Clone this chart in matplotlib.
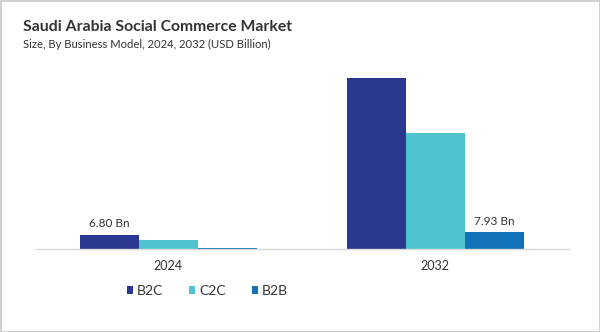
import numpy as np
import matplotlib.pyplot as plt
from matplotlib.patches import Rectangle

plt.rcParams['font.family'] = ['Lato', 'DejaVu Sans']

years = ['2024', '2032']
models = ['B2C', 'C2C', 'B2B']
b2c = [6.80, 80.5]
c2c = [4.4, 54.4]
b2b = [0.35, 7.93]
colors = ['#2b3890', '#4fc4d0', '#1271b8']

fig = plt.figure(figsize=(6, 3.32), dpi=100)
ax = fig.add_axes([34.5 / 600, 83 / 332, 534.5 / 600, 191.5 / 332])

x = np.arange(len(years))
w = 0.221
series = [b2c, c2c, b2b]
for i, (vals, col, name) in enumerate(zip(series, colors, models)):
    ax.bar(x + (i - 1) * w, vals, w, color=col, label=name, linewidth=0)

# value labels on the first and last bars
ax.text(x[0] - w, b2c[0] + 2.4, '%.2f Bn' % b2c[0], ha='center', va='bottom',
        fontsize=8.5, color='#333333')
ax.text(x[1] + w, b2b[1] + 2.4, '%.2f Bn' % b2b[1], ha='center', va='bottom',
        fontsize=8.5, color='#333333')

ax.set_xlim(-0.5, 1.5)
ax.set_ylim(0, 90)
ax.set_xticks(x)
ax.set_xticklabels(years, fontsize=9, color='#333333')
ax.tick_params(axis='x', length=0, pad=8)
ax.set_yticks([])
for s in ['top', 'right', 'left']:
    ax.spines[s].set_visible(False)
ax.spines['bottom'].set_color('#d9d9d9')
ax.spines['bottom'].set_linewidth(1)

fig.text(23 / 600, 1 - 27 / 332, 'Saudi Arabia Social Commerce Market', fontsize=11.3,
         fontweight='bold', color='#333333', va='center')
fig.text(23 / 600, 1 - 44.5 / 332, 'Size, By Business Model, 2024, 2032 (USD Billion)',
         fontsize=8.1, color='#333333', va='center')

leg = fig.legend(loc='center left', bbox_to_anchor=(114 / 600, 1 - 291 / 332), ncol=3,
                 frameon=False, fontsize=10, handlelength=0.45, handleheight=0.45,
                 columnspacing=1.85, handletextpad=0.3)
for t in leg.get_texts():
    t.set_color('#333333')

fig.patches.append(Rectangle((0.5 / 600, 0.5 / 332), 599 / 600, 331 / 332,
                             transform=fig.transFigure, fill=False,
                             edgecolor='#c8c8c8', linewidth=1.2))

fig.savefig('out.png', dpi=100)
